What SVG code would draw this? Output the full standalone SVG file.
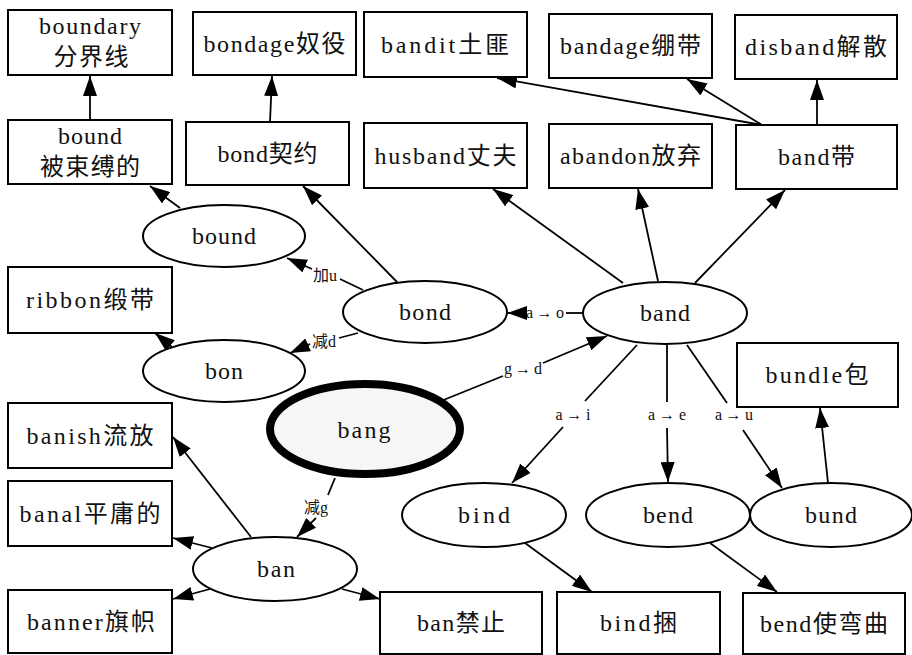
<svg xmlns="http://www.w3.org/2000/svg" width="912" height="655" viewBox="0 0 912 655">
<defs>
<style>
.box{fill:#fff;stroke:#000;stroke-width:2}
.ell{fill:#fff;stroke:#000;stroke-width:2}
.t{font-family:"Liberation Serif","Times New Roman","DejaVu Serif","Noto Sans CJK SC",serif;font-size:24px;fill:#111;text-anchor:middle}
.l{font-family:"Liberation Serif","Times New Roman","DejaVu Serif","Noto Sans CJK SC",serif;font-size:16px;fill:#111;text-anchor:middle}
.e{fill:none;stroke:#000;stroke-width:1.8}
.a{marker-end:url(#ah)}
</style>
<marker id="ah" markerWidth="20" markerHeight="14" refX="20" refY="7" orient="auto" markerUnits="userSpaceOnUse"><path d="M0,0 L20,7 L0,14 z" fill="#000"/></marker>
</defs>
<rect width="912" height="655" fill="#fff"/>
<g id="edges">
<path class="e a" d="M90,120 L90,76"/>
<path class="e a" d="M270,122 L272,76"/>
<path class="e a" d="M180,208 L150,186"/>
<path class="e a" d="M397,282 L303,186"/>
<path class="e" d="M363,290 L340,279"/>
<path class="e a" d="M312,269 L287,258"/>
<path class="e" d="M358,333 L339,338"/>
<path class="e a" d="M310,344 L290,353"/>
<path class="e" d="M583,313 L566,313"/>
<path class="e a" d="M526,313 L507,313"/>
<path class="e" d="M441,401 L503,376"/>
<path class="e a" d="M543,363 L607,336"/>
<path class="e a" d="M623,283 L493,189"/>
<path class="e a" d="M658,281 L638,189"/>
<path class="e a" d="M695,283 L785,190"/>
<path class="e a" d="M762,125 L497,78"/>
<path class="e a" d="M762,125 L687,79"/>
<path class="e a" d="M817,125 L817,80"/>
<path class="e" d="M637,345 L585,401"/>
<path class="e a" d="M563,427 L512,483"/>
<path class="e" d="M667,345 L667,402"/>
<path class="e a" d="M667,428 L668,482"/>
<path class="e" d="M687,345 L727,403"/>
<path class="e a" d="M743,430 L782,488"/>
<path class="e a" d="M828,483 L820,408"/>
<path class="e a" d="M525,543 L592,592"/>
<path class="e a" d="M710,543 L777,592"/>
<path class="e" d="M335,478 L328,495"/>
<path class="e a" d="M316,518 L297,537"/>
<path class="e a" d="M251,537 L173,437"/>
<path class="e a" d="M212,548 L173,538"/>
<path class="e a" d="M210,589 L173,599"/>
<path class="e a" d="M342,589 L380,599"/>
<path class="e a" d="M172,347 L155,333"/>
<text class="l" x="325" y="281">加u</text>
<text class="l" x="324" y="347">减d</text>
<text class="l" x="545" y="318" textLength="38">a→o</text>
<text class="l" x="523" y="374" textLength="38">g→d</text>
<text class="l" x="573" y="420" textLength="35">a→i</text>
<text class="l" x="667" y="420" textLength="38">a→e</text>
<text class="l" x="734" y="420" textLength="38">a→u</text>
<text class="l" x="316" y="513">减g</text>
</g>
<g id="n-boundary"><rect class="box" x="8" y="10" width="164" height="65"/><text class="t" x="90" y="34" textLength="102">boundary</text><text class="t" x="91" y="65" textLength="75">分界线</text></g>
<g id="n-bondage"><rect class="box" x="193" y="12" width="163" height="63"/><text class="t" x="274.5" y="52" textLength="142">bondage奴役</text></g>
<g id="n-bandit"><rect class="box" x="364" y="12" width="163" height="65"/><text class="t" x="445" y="53" textLength="128">bandit土匪</text></g>
<g id="n-bandage"><rect class="box" x="549" y="14" width="163" height="64"/><text class="t" x="630.5" y="54" textLength="141">bandage绷带</text></g>
<g id="n-disband"><rect class="box" x="735" y="15" width="162" height="64"/><text class="t" x="816" y="55" textLength="142">disband解散</text></g>
<g id="n-boundbox"><rect class="box" x="8" y="120" width="164" height="64"/><text class="t" x="90" y="144" textLength="64">bound</text><text class="t" x="90" y="175" textLength="100">被束缚的</text></g>
<g id="n-bondbox"><rect class="box" x="186" y="122" width="163" height="63"/><text class="t" x="267.5" y="162" textLength="100">bond契约</text></g>
<g id="n-husband"><rect class="box" x="364" y="123" width="163" height="65"/><text class="t" x="445.5" y="164" textLength="142">husband丈夫</text></g>
<g id="n-abandon"><rect class="box" x="549" y="124" width="163" height="64"/><text class="t" x="630.5" y="164" textLength="141">abandon放弃</text></g>
<g id="n-bandbox"><rect class="box" x="736" y="125" width="161" height="64"/><text class="t" x="816.5" y="165" textLength="77">band带</text></g>
<g id="n-ribbon"><rect class="box" x="8" y="267" width="164" height="66"/><text class="t" x="90" y="308" textLength="128">ribbon缎带</text></g>
<g id="n-bundle"><rect class="box" x="737" y="343" width="161" height="64"/><text class="t" x="817" y="383" textLength="103">bundle包</text></g>
<g id="n-banish"><rect class="box" x="8" y="403" width="164" height="65"/><text class="t" x="90" y="444" textLength="127">banish流放</text></g>
<g id="n-banal"><rect class="box" x="8" y="481" width="164" height="65"/><text class="t" x="90" y="522" textLength="141">banal平庸的</text></g>
<g id="n-banner"><rect class="box" x="8" y="590" width="164" height="63"/><text class="t" x="91" y="630" textLength="128">banner旗帜</text></g>
<g id="n-banbox"><rect class="box" x="380" y="592" width="162" height="62"/><text class="t" x="461" y="631" textLength="88">ban禁止</text></g>
<g id="n-bindbox"><rect class="box" x="557" y="592" width="163" height="62"/><text class="t" x="638.5" y="631" textLength="77">bind捆</text></g>
<g id="n-bendbox"><rect class="box" x="743" y="593" width="162" height="61"/><text class="t" x="824" y="632" textLength="128">bend使弯曲</text></g>
<g id="n-bound"><ellipse class="ell" cx="224" cy="236" rx="81" ry="31"/><text class="t" x="224" y="244" textLength="64">bound</text></g>
<g id="n-bond"><ellipse class="ell" cx="425" cy="312" rx="82" ry="31"/><text class="t" x="425" y="320" textLength="52">bond</text></g>
<g id="n-band"><ellipse class="ell" cx="665" cy="313" rx="82" ry="31"/><text class="t" x="665" y="321" textLength="50">band</text></g>
<g id="n-bon"><ellipse class="ell" cx="224" cy="371" rx="81" ry="31"/><text class="t" x="224" y="379" textLength="38">bon</text></g>
<g id="n-bang"><ellipse cx="365" cy="429" rx="95" ry="45" fill="#f6f6f6" stroke="#000" stroke-width="8"/><text class="t" x="364" y="438" textLength="53">bang</text></g>
<g id="n-ban"><ellipse class="ell" cx="275" cy="569" rx="82" ry="32"/><text class="t" x="276" y="577" textLength="38">ban</text></g>
<g id="n-bind"><ellipse class="ell" cx="484" cy="515" rx="82" ry="32"/><text class="t" x="484" y="523" textLength="52">bind</text></g>
<g id="n-bend"><ellipse class="ell" cx="668" cy="515" rx="82" ry="32"/><text class="t" x="668" y="523" textLength="50">bend</text></g>
<g id="n-bund"><ellipse class="ell" cx="831" cy="515" rx="81" ry="32"/><text class="t" x="831" y="523" textLength="52">bund</text></g>
</svg>
